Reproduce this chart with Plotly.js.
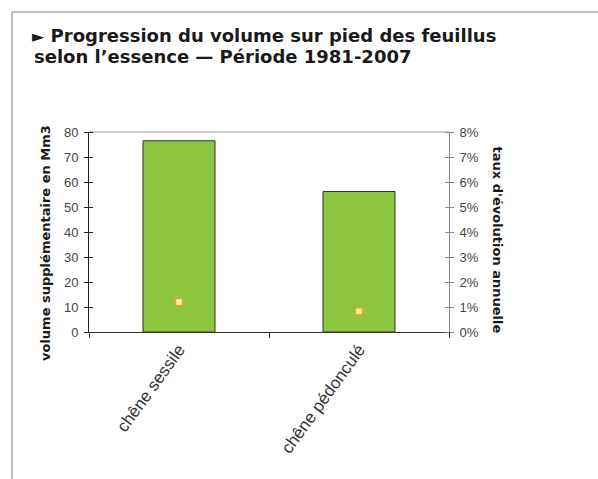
<!DOCTYPE html>
<html>
<head>
<meta charset="utf-8">
<script src="https://cdn.plot.ly/plotly-3.0.1.min.js"></script>
<style>
  html, body { margin: 0; padding: 0; background: #ffffff; }
  #chart { width: 598px; height: 479px; }
</style>
</head>
<body>
<div id="chart"></div>
<script>
// ---- data ----
const categories = ['chêne sessile', 'chêne pédonculé'];
const volumeMm3 = [76.5, 56.2];          // volume supplémentaire en Mm3 (bars, left axis)
const tauxAnnuel = [0.012, 0.0083];      // taux d'évolution annuelle (markers, right axis)
const titleLine1 = '<span style="font-size:16px">►</span> Progression du volume sur pied des feuillus';
const titleLine2 = 'selon l’essence — Période 1981-2007';
const leftTitle = 'volume supplémentaire en Mm3';
const rightTitle = 'taux d\'évolution annuelle';

// ---- geometry helpers (pixel -> paper) ----
const W = 598, H = 479;
const M = { l: 89, r: 149, t: 132, b: 147 };
const PW = W - M.l - M.r, PH = H - M.t - M.b;
const px = x => (x - M.l) / PW;
const py = y => (H - M.b - y) / PH;

const tickFont = { family: 'Liberation Sans, Arial, sans-serif', size: 13, color: '#444' };
const axTitleFont = { family: 'DejaVu Sans, sans-serif', size: 13, color: '#1a1a1a', weight: 700 };
const headFont = { family: 'DejaVu Sans, sans-serif', size: 18, color: '#1a1a1a', weight: 700 };

const traces = [
  {
    type: 'bar',
    x: categories,
    y: volumeMm3,
    width: 0.4,
    marker: { color: '#8CC63F', line: { color: '#333333', width: 1 } },
    hoverinfo: 'skip'
  },
  {
    type: 'scatter',
    mode: 'markers',
    x: categories,
    y: tauxAnnuel,
    yaxis: 'y2',
    marker: { symbol: 'square', size: 7, color: '#FFF2A8', line: { color: '#F0A030', width: 1.5 } },
    hoverinfo: 'skip'
  }
];

const layout = {
  width: W, height: H,
  autosize: false,
  margin: M,
  paper_bgcolor: '#ffffff',
  plot_bgcolor: '#ffffff',
  showlegend: false,
  hovermode: false,
  title: {
    text: titleLine1,
    font: headFont,
    xref: 'container', yref: 'container',
    x: 32 / W, xanchor: 'left',
    y: 1 - 29 / H, yanchor: 'top'
  },
  xaxis: {
    type: 'category',
    range: [-0.5, 1.5],
    tickson: 'boundaries',
    ticks: 'outside', ticklen: 5, tickwidth: 1, tickcolor: '#333',
    showline: true, linecolor: '#333', linewidth: 1,
    showgrid: false, zeroline: false,
    tickangle: -54,
    tickfont: { family: 'Liberation Sans, Arial, sans-serif', size: 17, color: '#333' }
  },
  xaxis2: {
    overlaying: 'x', anchor: 'y', side: 'bottom',
    type: 'linear', range: [-0.5, 1.5],
    tickmode: 'array', tickvals: [-0.5, 0.5, 1.5],
    ticks: 'inside', ticklen: 5, tickwidth: 1, tickcolor: '#333',
    showticklabels: false, showline: false, showgrid: false, zeroline: false
  },
  yaxis: {
    range: [0, 80], dtick: 10, tick0: 0,
    ticks: 'outside', ticklen: 4, tickwidth: 1, tickcolor: '#222',
    minor: { ticks: 'inside', ticklen: 4, dtick: 10, tick0: 0, tickcolor: '#222', showgrid: false },
    showline: true, linecolor: '#222', linewidth: 1,
    showgrid: false, zeroline: false,
    tickfont: tickFont,
    ticklabelstandoff: 3
  },
  yaxis2: {
    overlaying: 'y', side: 'right', anchor: 'x',
    range: [0, 0.08], dtick: 0.01, tick0: 0, tickformat: '.0%',
    ticks: 'outside', ticklen: 4, tickwidth: 1, tickcolor: '#888',
    minor: { ticks: 'inside', ticklen: 4, dtick: 0.01, tick0: 0, tickcolor: '#888', showgrid: false },
    showline: true, linecolor: '#888', linewidth: 1,
    showgrid: false, zeroline: false,
    tickfont: tickFont,
    ticklabelstandoff: 3
  },
  annotations: [
    {
      text: titleLine2, font: headFont, showarrow: false,
      xref: 'paper', yref: 'paper',
      x: px(32), xanchor: 'left',
      y: py(44), yanchor: 'top'
    },
    {
      text: leftTitle, font: axTitleFont, showarrow: false, textangle: -90,
      xref: 'paper', yref: 'paper',
      x: px(45), y: py(243), xanchor: 'center', yanchor: 'middle'
    },
    {
      text: rightTitle, font: axTitleFont, showarrow: false, textangle: 90,
      xref: 'paper', yref: 'paper',
      x: px(497), y: py(239.5), xanchor: 'center', yanchor: 'middle'
    }
  ],
  shapes: [
    // grey top border of plot area
    { type: 'line', xref: 'paper', yref: 'paper', x0: 0, x1: 1, y0: 1, y1: 1,
      line: { color: '#999', width: 1 }, layer: 'below' },
    // outer frame (top and left)
    { type: 'line', xref: 'paper', yref: 'paper', x0: px(12), x1: px(600), y0: py(12), y1: py(12),
      line: { color: '#a6a6a6', width: 1.5 } },
    { type: 'line', xref: 'paper', yref: 'paper', x0: px(12), x1: px(12), y0: py(12), y1: py(481),
      line: { color: '#a6a6a6', width: 1.5 } }
  ]
};

Plotly.newPlot('chart', traces, layout, { displayModeBar: false, staticPlot: true });
</script>
</body>
</html>
